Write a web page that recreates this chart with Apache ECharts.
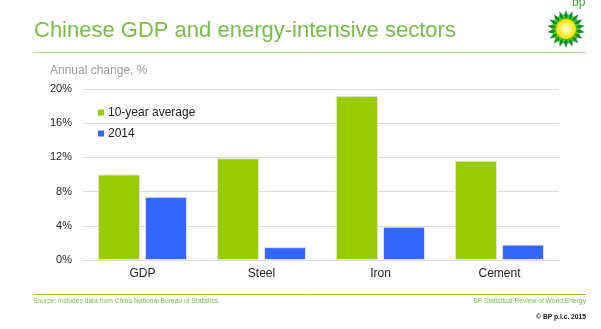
<!DOCTYPE html>
<html>
<head>
<meta charset="utf-8">
<script src="https://cdn.jsdelivr.net/npm/echarts@6/dist/echarts.min.js"></script>
<style>html,body{margin:0;padding:0;background:#fff}#c{width:601px;height:329px}</style>
</head>
<body>
<div id="c"></div>
<script>
var categories = ['GDP', 'Steel', 'Iron', 'Cement'];
var tenYearAverage = [10.0, 11.9, 19.2, 11.6];
var year2014 = [7.4, 1.5, 3.9, 1.8];
var seriesNames = ['10-year average', '2014'];
var yTicks = [0, 4, 8, 12, 16, 20];

var chart = echarts.init(document.getElementById('c'), null, {renderer: 'canvas'});

function star(cx, cy, n, rOut, rIn, rot) {
  var pts = [];
  for (var i = 0; i < n * 2; i++) {
    var r = i % 2 === 0 ? rOut : rIn;
    var a = rot + Math.PI * i / n;
    pts.push([cx + r * Math.cos(a), cy + r * Math.sin(a)]);
  }
  return pts;
}
var lcx = 566, lcy = 29;

var font = '"Liberation Sans", Arial, sans-serif';
chart.setOption({
  backgroundColor: '#fff',
  animation: false,
  textStyle: {fontFamily: font},
  grid: {left: 83, right: 42, top: 89, bottom: 69, containLabel: false},
  legend: {
    orient: 'vertical', left: 98, top: 106, padding: 0,
    itemWidth: 6, itemHeight: 6, itemGap: 8,
    icon: 'rect',
    itemStyle: {borderWidth: 0},
    textStyle: {fontSize: 12, color: '#222', fontFamily: font, lineHeight: 13, padding: [0, 0, 0, -1]},
    data: seriesNames
  },
  xAxis: {
    type: 'category', data: categories,
    axisLine: {lineStyle: {color: '#dcdcdc'}},
    axisTick: {show: false},
    axisLabel: {fontSize: 12, color: '#222', margin: 8}
  },
  yAxis: {
    type: 'value', min: yTicks[0], max: yTicks[yTicks.length - 1], interval: yTicks[1] - yTicks[0],
    axisLine: {show: false}, axisTick: {show: false},
    axisLabel: {fontSize: 11, color: '#222', margin: 11, formatter: '{value}%'},
    splitLine: {lineStyle: {color: '#dcdcdc', width: 1}}
  },
  series: [
    {name: seriesNames[0], type: 'bar', data: tenYearAverage, barWidth: 42, barGap: '12%',
     itemStyle: {color: '#99cc00', borderColor: '#e2e2e2', borderWidth: 1}},
    {name: seriesNames[1], type: 'bar', data: year2014, barWidth: 42,
     itemStyle: {color: '#3366ff', borderColor: '#e2e2e2', borderWidth: 1}}
  ],
  graphic: [
    {type: 'text', left: 34, top: 20, style: {text: 'Chinese GDP and energy-intensive sectors', fontSize: 22, fill: '#77bf43', fontFamily: font}},
    {type: 'line', shape: {x1: 33, y1: 52.5, x2: 586, y2: 52.5}, style: {stroke: '#a9d98a', lineWidth: 1}},
    {type: 'text', left: 50, top: 65, style: {text: 'Annual change, %', fontSize: 12, fill: '#999', fontFamily: font}},
    {type: 'line', shape: {x1: 33, y1: 294.5, x2: 586, y2: 294.5}, style: {stroke: '#8cc63f', lineWidth: 1}},
    {type: 'text', left: 33, top: 298, style: {text: 'Source: Includes data from China National Bureau of Statistics.', fontSize: 6.7, fill: '#77bf43', fontFamily: font}},
    {type: 'text', right: 15, top: 298, style: {text: 'BP Statistical Review of World Energy', fontSize: 6.7, fill: '#77bf43', fontFamily: font}},
    {type: 'text', right: 15, top: 314, style: {text: '\u00a9 BP p.l.c. 2015', fontSize: 6.7, fill: '#111', fontWeight: 'bold', fontFamily: font}},
    {type: 'text', left: 572, top: -3, style: {text: 'bp', fontSize: 12, fill: '#3aa935', fontFamily: font}},
    {type: 'polygon', shape: {points: star(lcx, lcy, 18, 19, 13, -Math.PI / 2)}, style: {fill: '#0a8f2e'}},
    {type: 'polygon', shape: {points: star(lcx, lcy, 18, 15.5, 10, -Math.PI / 2 + Math.PI / 18)}, style: {fill: '#5fbf1f'}},
    {type: 'circle', shape: {cx: lcx, cy: lcy, r: 10}, style: {fill: new echarts.graphic.RadialGradient(0.5, 0.5, 0.5, [{offset: 0, color: '#ffffff'}, {offset: 0.45, color: '#fff46a'}, {offset: 1, color: '#f2e100'}])}}
  ]
});
</script>
</body>
</html>
